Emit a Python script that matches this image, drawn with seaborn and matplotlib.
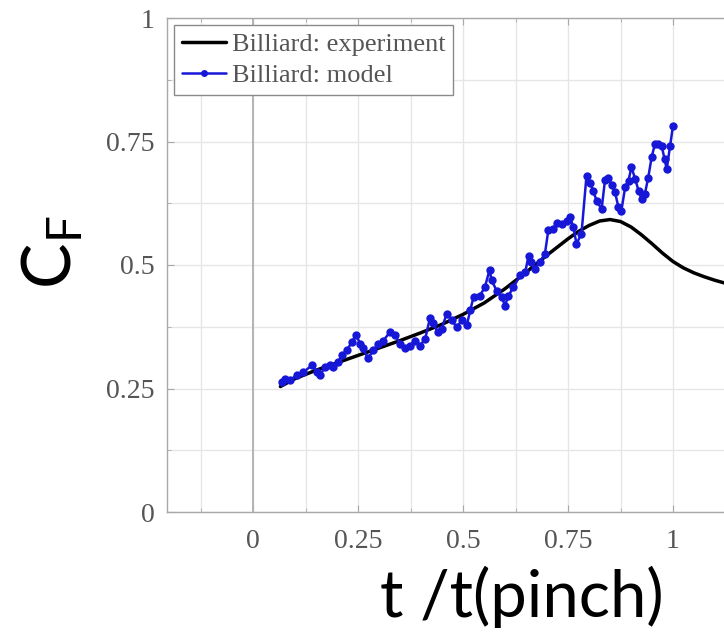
import matplotlib
matplotlib.use("Agg")
import matplotlib.pyplot as plt
from matplotlib.ticker import MultipleLocator, FuncFormatter
import seaborn as sns
import pandas as pd

# Measured friction coefficient (smooth curve)
exp_t = [0.065, 0.10, 0.15, 0.20, 0.25, 0.30, 0.35, 0.40, 0.45, 0.50, 0.55,
         0.60, 0.65, 0.70, 0.75, 0.775, 0.80, 0.825, 0.85, 0.875, 0.90, 0.925,
         0.95, 0.975, 1.00, 1.025, 1.05, 1.075, 1.10, 1.125, 1.15]
exp_cf = [0.254, 0.270, 0.287, 0.302, 0.317, 0.332, 0.347, 0.363, 0.380, 0.400,
          0.423, 0.452, 0.485, 0.520, 0.553, 0.568, 0.580, 0.589, 0.592, 0.588,
          0.577, 0.561, 0.543, 0.524, 0.507, 0.494, 0.484, 0.476, 0.469, 0.463,
          0.458]

# Billiard model prediction
model_t = [0.068, 0.076, 0.088, 0.104, 0.120, 0.140, 0.152, 0.160, 0.171, 0.183,
           0.190, 0.203, 0.211, 0.223, 0.235, 0.245, 0.255, 0.262, 0.274, 0.286,
           0.298, 0.310, 0.326, 0.338, 0.350, 0.362, 0.374, 0.386, 0.398, 0.410,
           0.421, 0.429, 0.440, 0.449, 0.461, 0.473, 0.485, 0.497, 0.509, 0.517,
           0.525, 0.540, 0.552, 0.563, 0.568, 0.580, 0.592, 0.600, 0.608, 0.620,
           0.636, 0.648, 0.656, 0.663, 0.671, 0.683, 0.695, 0.703, 0.715, 0.723,
           0.735, 0.747, 0.755, 0.763, 0.770, 0.782, 0.794, 0.802, 0.810, 0.818,
           0.830, 0.838, 0.846, 0.854, 0.862, 0.870, 0.877, 0.886, 0.894, 0.901,
           0.910, 0.918, 0.925, 0.933, 0.941, 0.949, 0.957, 0.965, 0.973, 0.980,
           0.985, 0.993, 1.000]
model_cf = [0.263, 0.270, 0.267, 0.277, 0.283, 0.297, 0.283, 0.277, 0.294, 0.297,
            0.294, 0.304, 0.317, 0.327, 0.344, 0.358, 0.341, 0.331, 0.311, 0.327,
            0.340, 0.347, 0.364, 0.358, 0.341, 0.331, 0.337, 0.347, 0.337, 0.351,
            0.392, 0.382, 0.364, 0.371, 0.401, 0.388, 0.374, 0.388, 0.378, 0.408,
            0.435, 0.438, 0.455, 0.490, 0.469, 0.448, 0.435, 0.418, 0.438, 0.455,
            0.479, 0.485, 0.519, 0.506, 0.492, 0.506, 0.523, 0.570, 0.573, 0.586,
            0.583, 0.590, 0.597, 0.576, 0.543, 0.563, 0.681, 0.667, 0.650, 0.630,
            0.613, 0.672, 0.677, 0.661, 0.647, 0.617, 0.610, 0.657, 0.671, 0.698,
            0.674, 0.650, 0.634, 0.644, 0.677, 0.718, 0.745, 0.745, 0.741, 0.714,
            0.694, 0.741, 0.782]

x_ticks = [0, 0.25, 0.5, 0.75, 1]
y_ticks = [0, 0.25, 0.5, 0.75, 1]
series_names = ["Billiard: experiment", "Billiard: model"]

sns.set_style("white")
plt.rcParams["mathtext.fontset"] = "custom"
plt.rcParams["mathtext.rm"] = "Lato"

fig = plt.figure(figsize=(7.24, 6.38), dpi=100)
W, H = 724, 638
ax_left, ax_right, ax_top, ax_bottom = 167, 757, 18, 512
ax = fig.add_axes([ax_left / W, (H - ax_bottom) / H,
                   (ax_right - ax_left) / W, (ax_bottom - ax_top) / H])

df_exp = pd.DataFrame({"t": exp_t, "cf": exp_cf})
df_mod = pd.DataFrame({"t": model_t, "cf": model_cf})

sns.lineplot(data=df_exp, x="t", y="cf", ax=ax, color="black", lw=2.5,
             estimator=None, sort=False, label=series_names[0], zorder=3)
sns.lineplot(data=df_mod, x="t", y="cf", ax=ax, color="#1717d8", lw=1.8,
             marker="o", markersize=6, markeredgewidth=0,
             estimator=None, sort=False, label=series_names[1], zorder=4)

ax.set_xlim(-0.205, 1.2)
ax.set_ylim(0, 1)
ax.set_xticks(x_ticks)
ax.set_yticks(y_ticks)
ax.xaxis.set_minor_locator(MultipleLocator(0.125))
ax.yaxis.set_minor_locator(MultipleLocator(0.125))
fmt = FuncFormatter(lambda v, p: f"{v:g}")
ax.xaxis.set_major_formatter(fmt)
ax.yaxis.set_major_formatter(fmt)

ax.grid(which="both", color="#e6e6e6", lw=1.0, zorder=0)
ax.axvline(0, color="#b4b4b4", lw=1.4, zorder=1)
ax.set_axisbelow(True)

for side, sp in ax.spines.items():
    sp.set_color("#a8a8a8")
    sp.set_linewidth(1.0)
    sp.set_visible(side in ("left", "bottom", "top"))

ax.tick_params(which="both", direction="in", top=True, left=True, bottom=True,
               color="#a8a8a8")
ax.tick_params(which="major", length=5)
ax.tick_params(which="minor", length=3)
ax.tick_params(axis="x", which="major", pad=12)
ax.tick_params(axis="y", which="major", pad=9)
for lab in ax.get_xticklabels() + ax.get_yticklabels():
    lab.set_fontfamily("Liberation Serif")
    lab.set_fontsize(20)
    lab.set_color("#555555")

ax.set_xlabel("")
ax.set_ylabel("")

leg = ax.legend(loc="upper left", frameon=True, fancybox=False, framealpha=1,
                edgecolor="#8a8a8a", borderaxespad=0.25, handlelength=1.7,
                handletextpad=0.2, labelspacing=0.3, borderpad=0.3,
                prop={"family": "Liberation Serif", "size": 19})
leg.get_frame().set_linewidth(1.0)
for txt in leg.get_texts():
    txt.set_color("#555555")
for line in leg.get_lines():
    line.set_markersize(5)

fig.text(522 / W, 1 - 617 / H, "t /t(pinch)", family="Lato", fontsize=47,
         ha="center", va="baseline", color="black")
fig.text(52 / W, 1 - 252 / H, r"C$_\mathrm{F}$", family="Lato", fontsize=49,
         rotation=90, ha="center", va="center", color="black")

fig.savefig("out.png", dpi=100)
